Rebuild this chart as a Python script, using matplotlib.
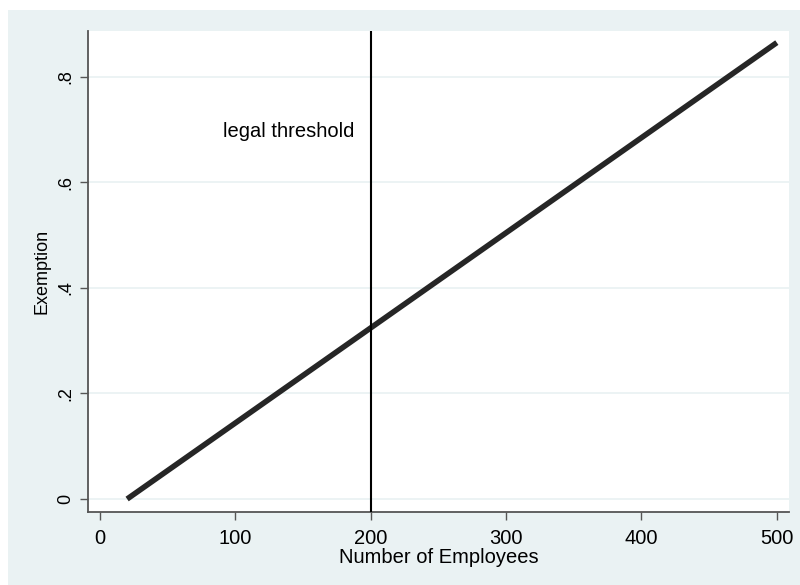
import numpy as np
import matplotlib.pyplot as plt
from matplotlib.patches import Rectangle

plt.rcParams['font.family'] = ['Liberation Sans', 'DejaVu Sans']

# data
employees = [20, 500]
exemption = [0.0, 0.865]
threshold = 200
xticks = [0, 100, 200, 300, 400, 500]
yticks = [0, 0.2, 0.4, 0.6, 0.8]
ytick_labels = ['0', '.2', '.4', '.6', '.8']

bg = '#eaf2f3'
fig = plt.figure(figsize=(8, 5.85), dpi=100, facecolor='white')
# stata-like outer region
fig.patches.append(Rectangle((8/800, 0), 1 - 8/800, 1 - 10/585,
                             transform=fig.transFigure, facecolor=bg,
                             edgecolor='none', zorder=-10))
ax = fig.add_axes([88/800, 1 - 512/585, (789 - 88)/800, (512 - 31)/585])
ax.set_facecolor('white')

ax.plot(employees, exemption, color='#262626', lw=4, solid_capstyle='butt', zorder=3)
ax.axvline(threshold, color='black', lw=1.5, zorder=4)
ax.text(188, 0.696, 'legal threshold', ha='right', va='center', fontsize=14.5)

ax.set_xlim(-8.9, 509)
ax.set_ylim(-0.0246, 0.887)
ax.set_xticks(xticks)
ax.set_yticks(yticks)
ax.set_yticklabels(ytick_labels, rotation=90, va='center', fontsize=13)
ax.grid(axis='y', color=bg, lw=1.3)
ax.set_axisbelow(True)
ax.tick_params(direction='out', length=6, width=1, color='#555555', pad=4)
ax.tick_params(axis='x', labelsize=14.5, pad=6)

for s in ['top', 'right']:
    ax.spines[s].set_visible(False)
for s in ['left', 'bottom']:
    ax.spines[s].set_color('#555555')
    ax.spines[s].set_linewidth(1.3)

ax.set_xlabel('Number of Employees', fontsize=14.5, labelpad=0)
ax.set_ylabel('Exemption', fontsize=13, labelpad=5)

fig.savefig('out.png', dpi=100, facecolor=fig.get_facecolor())
